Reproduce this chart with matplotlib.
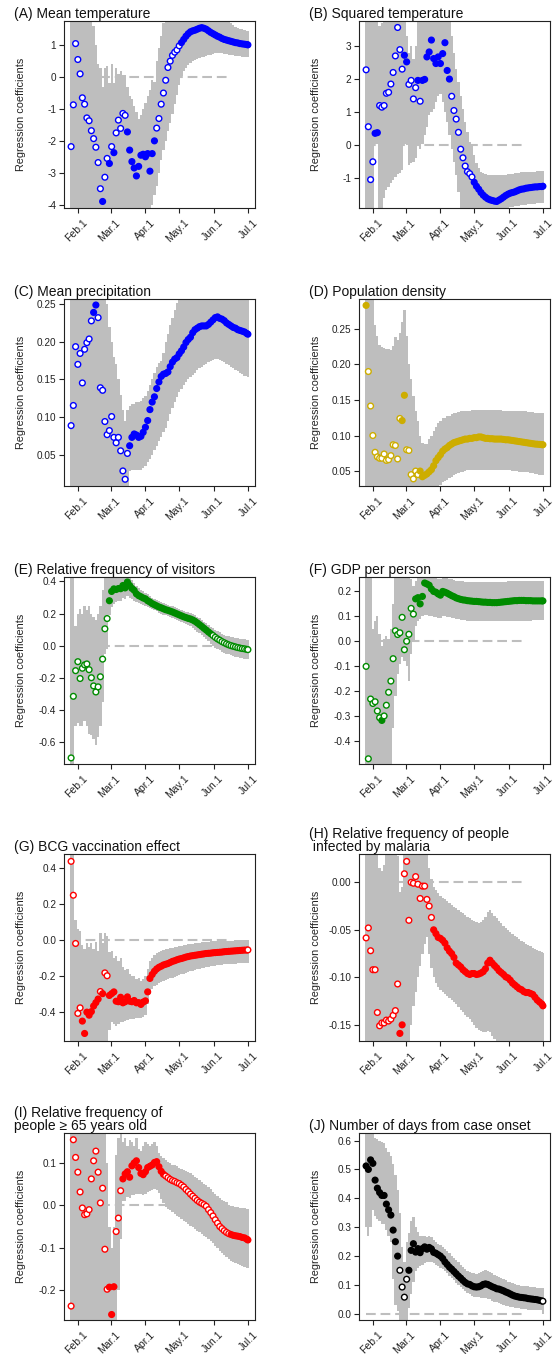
import matplotlib
matplotlib.use("Agg")
import matplotlib.pyplot as plt
from matplotlib.transforms import ScaledTranslation, blended_transform_factory
import numpy as np

plt.rcParams['font.family'] = ['Liberation Sans', 'DejaVu Sans']
plt.rcParams['axes.unicode_minus'] = False
plt.rcParams['lines.scale_dashes'] = False

# ---------------- data ----------------
# day index: 0 = Jan 26 2020 (every 2nd day, plus Jul 1)
DAYS = list(range(0, 157, 2)) + [157]
MONTH_TICKS = [6, 35, 66, 96, 127, 157]
MONTH_LABELS = ["Feb.1", "Mar.1", "Apr.1", "May.1", "Jun.1", "Jul.1"]
REF_LINE_DAYS = [0, 140]

A_COEF = [-2.18, -0.87, 1.05, 0.55, 0.10, -0.65, -0.85, -1.28, -1.37, -1.68,
          -1.93, -2.20, -2.68, -3.50, -3.90, -3.14, -2.55, -2.71, -2.18, -2.37,
          -1.75, -1.35, -1.61, -1.14, -1.20, -1.72, -2.29, -2.65, -2.85, -3.10,
          -2.80, -2.45, -2.42, -2.50, -2.40, -2.95, -2.40, -2.00, -1.60, -1.30,
          -0.85, -0.50, -0.10, 0.30, 0.50, 0.68, 0.78, 0.85, 0.98, 1.08,
          1.18, 1.28, 1.36, 1.42, 1.45, 1.47, 1.50, 1.53, 1.55, 1.53,
          1.50, 1.45, 1.40, 1.36, 1.32, 1.28, 1.25, 1.21, 1.18, 1.16,
          1.14, 1.12, 1.10, 1.08, 1.07, 1.05, 1.04, 1.03, 1.02, 1.01]
A_SIG = "0000000000" "0000100101" "0000011111" "1111111100" "0000000001" + "1" * 30
A_HI = [2.5] * 10 + \
       [1.6, 1.0, 0.4, 0.3, -0.3, 0.3, 0.35, -0.2, 0.4, -0.2,
        0.3, 0.1, 0.2, 0.05, 0.05, -0.3, -0.6, -0.7, -0.9, -1.1,
        -1.3, -1.2, -1.0, -0.8, -0.6, -0.4, -0.1, -0.15, 0.5, 0.9,
        1.3, 1.7, 2.2, 2.5, 2.5, 2.5, 2.5, 2.5, 2.5, 2.5] + [2.5] * 19 + [2.0] + \
       [1.75, 1.68, 1.62, 1.58, 1.55, 1.52, 1.50, 1.48, 1.46, 1.45]
A_LO = [-5.0] * 30 + \
       [-5.0, -5.0, -5.0, -5.0, -5.0, -4.3, -4.0, -3.7, -3.4, -3.0,
        -2.6, -2.3, -2.0, -1.7, -1.45, -1.15, -0.85, -0.55, -0.25, 0.03,
        0.2, 0.3, 0.38, 0.45, 0.5, 0.54, 0.57, 0.6, 0.62, 0.64,
        0.66, 0.68, 0.7, 0.72, 0.74, 0.75, 0.75, 0.74, 0.73, 0.72,
        0.7, 0.69, 0.68, 0.67, 0.66, 0.65, 0.64, 0.63, 0.62, 0.62]

B_COEF = [2.28, 0.56, -1.04, -0.50, 0.36, 0.38, 1.20, 1.15, 1.20, 1.57,
          1.60, 1.85, 2.20, 2.70, 3.56, 2.89, 2.30, 2.72, 2.52, 1.84,
          1.96, 1.40, 1.74, 1.96, 1.33, 1.96, 1.99, 2.67, 2.82, 3.18,
          2.62, 2.47, 2.67, 2.47, 2.77, 3.10, 2.26, 2.00, 1.48, 1.05,
          0.79, 0.39, -0.12, -0.38, -0.63, -0.80, -0.86, -0.96, -1.12, -1.24,
          -1.33, -1.43, -1.51, -1.57, -1.62, -1.65, -1.67, -1.69, -1.70, -1.66,
          -1.62, -1.57, -1.52, -1.48, -1.45, -1.43, -1.41, -1.38, -1.35, -1.33,
          -1.32, -1.30, -1.29, -1.28, -1.27, -1.26, -1.26, -1.25, -1.25, -1.24]
B_SIG = "0000110000" "0000000110" "0001011111" "1111111100" "0000000011" + "1" * 30
B_HI = [4.5, 4.5, 4.5, 4.5, 4.0, 3.8, 3.6, 3.7, 4.0, 4.5,
        4.5, 4.5, 4.5, 4.5, 4.5, 4.5, 4.5, 4.5, 3.3, 2.8,
        3.0, 2.6, 3.0, 4.0, 4.5, 4.5, 4.5, 4.5, 4.5, 4.5,
        4.5, 4.5, 4.5, 4.5, 4.5, 4.5, 4.2, 3.8, 3.3, 2.8,
        2.3, 1.9, 1.5, 1.1, 0.7, 0.4, 0.1, 0.02, -0.3, -0.55,
        -0.7, -0.8, -0.85, -0.88, -0.9, -0.9, -0.9, -0.9, -0.9, -0.9,
        -0.9, -0.9, -0.89, -0.88, -0.87, -0.86, -0.85, -0.84, -0.83, -0.82,
        -0.82, -0.81, -0.81, -0.8, -0.8, -0.8, -0.79, -0.79, -0.78, -0.78]
B_LO = [-2.5, -2.5, -2.5, -2.5, 0.05, 0.05, -2.5, -2.0, -1.6, -1.35,
        -1.25, -1.15, -1.05, -0.95, -0.88, -0.83, -0.75, 0.05, 0.02, -0.6,
        -0.55, -0.5, -0.4, 0.05, -0.1, 0.05, 0.3, 0.55, 0.9, 1.0,
        1.1, 1.3, 1.5, 1.55, 1.3, 1.0, 0.7, 0.3, -0.1, -0.5,
        -0.9, -1.4, -1.9, -2.5, -2.5, -2.5, -2.5, -2.5, -2.5, -2.3,
        -2.1, -2.0, -1.95, -1.95, -1.95, -1.95, -1.95, -1.95, -1.95, -1.95,
        -1.95, -1.95, -1.92, -1.9, -1.88, -1.86, -1.85, -1.84, -1.83, -1.82,
        -1.81, -1.8, -1.79, -1.78, -1.78, -1.77, -1.76, -1.76, -1.75, -1.75]

C_COEF = [0.0888, 0.1155, 0.1935, 0.170, 0.1845, 0.1454, 0.190, 0.1988, 0.2037, 0.2277,
          0.2389, 0.2487, 0.232, 0.139, 0.1356, 0.0942, 0.0768, 0.0822, 0.1008, 0.0732,
          0.066, 0.0732, 0.0554, 0.0287, 0.0176, 0.0519, 0.0621, 0.0732, 0.0777, 0.0763,
          0.0732, 0.0746, 0.0799, 0.0866, 0.0955, 0.110, 0.120, 0.127, 0.138, 0.1467,
          0.154, 0.157, 0.158, 0.160, 0.167, 0.173, 0.177, 0.179, 0.184, 0.188,
          0.193, 0.199, 0.203, 0.206, 0.212, 0.216, 0.218, 0.220, 0.221, 0.221,
          0.221, 0.223, 0.226, 0.229, 0.232, 0.233, 0.231, 0.230, 0.228, 0.225,
          0.223, 0.221, 0.219, 0.218, 0.216, 0.215, 0.214, 0.213, 0.211, 0.210]
C_SIG = "0000000000" "1100000000" "0000001111" + "1" * 50
C_HI = [0.3] * 16 + \
       [0.25, 0.22, 0.2, 0.18,
        0.17, 0.15, 0.13, 0.11, 0.095, 0.11, 0.115, 0.118, 0.118, 0.12,
        0.12, 0.122, 0.125, 0.128, 0.135, 0.142, 0.15, 0.158, 0.167, 0.172,
        0.175, 0.185, 0.2, 0.21, 0.222, 0.232, 0.242, 0.252, 0.3, 0.3] + [0.3] * 30
C_LO = [0.0] * 26 + \
       [0.029, 0.03, 0.03, 0.03,
        0.03, 0.03, 0.032, 0.035, 0.04, 0.045, 0.05, 0.056, 0.062, 0.068,
        0.074, 0.08, 0.086, 0.095, 0.104, 0.112, 0.12, 0.127, 0.133, 0.138,
        0.142, 0.146, 0.15, 0.153, 0.156, 0.159, 0.162, 0.165, 0.167, 0.169,
        0.171, 0.173, 0.175, 0.176, 0.177, 0.177, 0.176, 0.175, 0.173, 0.171,
        0.169, 0.167, 0.165, 0.163, 0.161, 0.159, 0.157, 0.155, 0.154, 0.153]

D_COEF = [0.283, 0.190, 0.1415, 0.100, 0.0764, 0.070, 0.068, 0.068, 0.074, 0.065,
          0.066, 0.0717, 0.087, 0.086, 0.067, 0.124, 0.121, 0.1566, 0.080, 0.079,
          0.045, 0.039, 0.050, 0.045, 0.050, 0.042, 0.044, 0.046, 0.049, 0.052,
          0.0575, 0.0646, 0.069, 0.073, 0.078, 0.081, 0.083, 0.086, 0.088, 0.090,
          0.091, 0.092, 0.093, 0.094, 0.095, 0.095, 0.096, 0.096, 0.097, 0.097,
          0.098, 0.098, 0.097, 0.096, 0.096, 0.0955, 0.0955, 0.095, 0.095, 0.095,
          0.095, 0.0945, 0.094, 0.094, 0.0935, 0.093, 0.0925, 0.092, 0.0915, 0.091,
          0.0905, 0.090, 0.0895, 0.089, 0.0885, 0.088, 0.0878, 0.0875, 0.0872, 0.087]
D_SIG = "1000000000" "0000001100" "0000111111" + "1" * 50
D_HI = [0.35, 0.35, 0.35, 0.35, 0.255, 0.24, 0.228, 0.225, 0.223, 0.222,
        0.221, 0.22, 0.226, 0.238, 0.235, 0.244, 0.26, 0.277, 0.24, 0.2,
        0.18, 0.155, 0.135, 0.12, 0.1, 0.09, 0.088, 0.088, 0.095, 0.1,
        0.107, 0.112, 0.117, 0.121, 0.124, 0.125, 0.127, 0.128, 0.13, 0.131,
        0.132, 0.133, 0.134, 0.134, 0.135, 0.135, 0.135, 0.136, 0.136, 0.136,
        0.136, 0.136, 0.136, 0.136, 0.136, 0.136, 0.136, 0.136, 0.136, 0.136,
        0.136, 0.135, 0.135, 0.135, 0.135, 0.135, 0.135, 0.135, 0.134, 0.134,
        0.134, 0.134, 0.133, 0.133, 0.133, 0.132, 0.132, 0.131, 0.131, 0.131]
D_LO = [0.0] * 30 + \
       [0.02, 0.025, 0.028, 0.031, 0.034, 0.036, 0.038, 0.04, 0.042, 0.044,
        0.046, 0.047, 0.048, 0.049, 0.05, 0.051, 0.0515, 0.0515, 0.0515, 0.0515,
        0.0515, 0.0515, 0.0515, 0.0515, 0.0515, 0.0515, 0.0515, 0.0515, 0.0515, 0.0515,
        0.0515, 0.0515, 0.0515, 0.051, 0.051, 0.05, 0.05, 0.05, 0.049, 0.049,
        0.049, 0.048, 0.048, 0.047, 0.047, 0.046, 0.046, 0.045, 0.045, 0.045]

E_COEF = [-0.700, -0.316, -0.156, -0.100, -0.205, -0.141, -0.120, -0.114, -0.150, -0.200,
          -0.251, -0.289, -0.257, -0.194, -0.084, 0.105, 0.169, 0.280, 0.338, 0.354,
          0.350, 0.356, 0.355, 0.375, 0.360, 0.397, 0.375, 0.357, 0.345, 0.323,
          0.312, 0.305, 0.297, 0.292, 0.280, 0.272, 0.262, 0.255, 0.248, 0.241,
          0.236, 0.230, 0.224, 0.220, 0.215, 0.210, 0.204, 0.198, 0.192, 0.186,
          0.180, 0.175, 0.170, 0.166, 0.160, 0.152, 0.142, 0.131, 0.120, 0.108,
          0.097, 0.085, 0.074, 0.063, 0.052, 0.042, 0.034, 0.025, 0.018, 0.011,
          0.005, 0.000, -0.004, -0.008, -0.012, -0.015, -0.018, -0.020, -0.023, -0.025]
E_SIG = "0" * 17 + "1" * 46 + "0" * 17
E_HI = [0.5, 0.5, 0.12, 0.2, 0.23, 0.2, 0.25, 0.22, 0.25, 0.2,
        0.18, 0.16, 0.2, 0.25, 0.35, 0.42, 0.5, 0.5, 0.5, 0.5,
        0.5, 0.5, 0.5, 0.5, 0.5, 0.45, 0.43, 0.41, 0.39, 0.37,
        0.36, 0.35, 0.34, 0.33, 0.32, 0.31, 0.3, 0.29, 0.285, 0.278,
        0.272, 0.266, 0.26, 0.256, 0.25, 0.246, 0.24, 0.234, 0.228, 0.222,
        0.217, 0.212, 0.207, 0.203, 0.198, 0.19, 0.181, 0.171, 0.161, 0.15,
        0.14, 0.129, 0.119, 0.109, 0.099, 0.09, 0.083, 0.075, 0.069, 0.063,
        0.058, 0.054, 0.051, 0.048, 0.045, 0.043, 0.041, 0.039, 0.037, 0.036]
E_LO = [-0.75, -0.75, -0.5, -0.48, -0.5, -0.5, -0.47, -0.5, -0.55, -0.56,
        -0.58, -0.62, -0.57, -0.5, -0.35, -0.05, -0.02, 0.19, 0.24, 0.26,
        0.27, 0.28, 0.28, 0.3, 0.29, 0.31, 0.3, 0.29, 0.28, 0.27,
        0.265, 0.26, 0.255, 0.25, 0.242, 0.235, 0.226, 0.22, 0.213, 0.206,
        0.2, 0.194, 0.188, 0.184, 0.178, 0.173, 0.167, 0.161, 0.155, 0.149,
        0.143, 0.137, 0.13, 0.12, 0.11, 0.1, 0.088, 0.076, 0.064, 0.052,
        0.04, 0.027, 0.012, -0.005, -0.014, -0.022, -0.03, -0.037, -0.043, -0.049,
        -0.055, -0.06, -0.065, -0.069, -0.073, -0.076, -0.079, -0.082, -0.085, -0.086]

F_COEF = [-0.101, -0.472, -0.232, -0.250, -0.243, -0.280, -0.307, -0.318, -0.300, -0.257,
          -0.205, -0.160, -0.070, 0.042, 0.027, 0.034, 0.096, -0.034, 0.000, 0.028,
          0.132, 0.109, 0.170, 0.175, 0.150, 0.180, 0.234, 0.230, 0.225, 0.210,
          0.200, 0.197, 0.190, 0.185, 0.200, 0.197, 0.193, 0.188, 0.183, 0.179,
          0.174, 0.171, 0.168, 0.166, 0.165, 0.163, 0.162, 0.161, 0.160, 0.160,
          0.159, 0.158, 0.157, 0.157, 0.156, 0.156, 0.155, 0.155, 0.155, 0.156,
          0.157, 0.158, 0.159, 0.160, 0.161, 0.162, 0.163, 0.163, 0.164, 0.164,
          0.164, 0.163, 0.163, 0.163, 0.162, 0.162, 0.162, 0.162, 0.162, 0.162]
F_SIG = "0000000100" "0000000000" "0011111111" + "1" * 50
F_HI = [0.3, 0.3, 0.3, 0.05, 0.08, 0.1, 0.03, -0.02, 0.01, 0.02,
        0.01, 0.05, 0.15, 0.3, 0.3, 0.3, 0.3, 0.3, 0.3, 0.28,
        0.25, 0.22, 0.24, 0.26, 0.3, 0.3, 0.3, 0.3, 0.28, 0.27,
        0.26, 0.255, 0.25, 0.25, 0.26, 0.26, 0.255, 0.25, 0.248, 0.245,
        0.243, 0.241, 0.24, 0.24, 0.239, 0.239, 0.238, 0.238, 0.238, 0.238,
        0.238, 0.238, 0.238, 0.238, 0.238, 0.238, 0.238, 0.238, 0.238, 0.238,
        0.238, 0.239, 0.239, 0.24, 0.24, 0.24, 0.24, 0.241, 0.241, 0.241,
        0.241, 0.241, 0.241, 0.241, 0.241, 0.24, 0.24, 0.24, 0.24, 0.24]
F_LO = [-0.6] * 10 + \
       [-0.6, -0.6, -0.35, -0.22, -0.13, -0.09, -0.064, -0.08, -0.1, -0.16,
        -0.05, -0.005, 0.06, 0.08, 0.09, 0.1, 0.105, 0.105, 0.103, 0.1,
        0.098, 0.096, 0.094, 0.092, 0.1, 0.1, 0.098, 0.096, 0.094, 0.092,
        0.09, 0.088, 0.086, 0.085, 0.084, 0.083, 0.082, 0.082, 0.082, 0.082] + [0.082] * 20 + \
       [0.082, 0.083, 0.083, 0.083, 0.084, 0.084, 0.084, 0.085, 0.085, 0.085]

G_COEF = [0.438, 0.249, -0.020, -0.410, -0.379, -0.453, -0.522, -0.403, -0.420, -0.400,
          -0.369, -0.350, -0.330, -0.288, -0.300, -0.184, -0.200, -0.310, -0.300, -0.290,
          -0.342, -0.345, -0.320, -0.351, -0.345, -0.318, -0.342, -0.345, -0.338, -0.351,
          -0.350, -0.360, -0.347, -0.340, -0.290, -0.215, -0.193, -0.175, -0.162, -0.153,
          -0.147, -0.140, -0.136, -0.132, -0.126, -0.120, -0.116, -0.111, -0.107, -0.104,
          -0.100, -0.096, -0.093, -0.090, -0.088, -0.086, -0.084, -0.082, -0.080, -0.078,
          -0.076, -0.075, -0.074, -0.072, -0.071, -0.070, -0.069, -0.068, -0.066, -0.065,
          -0.064, -0.063, -0.062, -0.061, -0.060, -0.059, -0.058, -0.057, -0.057, -0.056]
G_SIG = "0000011111" "1110100111" + "1" * 59 + "0"
G_HI = [0.6, 0.6, 0.11, 0.06, 0.05, -0.03, -0.05, -0.02, -0.04, -0.02,
        -0.05, -0.01, -0.06, 0.04, -0.02, 0.04, 0.02, -0.07, -0.06, -0.1,
        -0.09, -0.12, -0.1, -0.15, -0.17, -0.16, -0.19, -0.2, -0.2, -0.22,
        -0.21, -0.23, -0.22, -0.2, -0.16, -0.12, -0.1, -0.085, -0.075, -0.068,
        -0.062, -0.057, -0.053, -0.049, -0.046, -0.043, -0.04, -0.037, -0.035, -0.032,
        -0.03, -0.027, -0.025, -0.023, -0.021, -0.019, -0.017, -0.015, -0.013, -0.012,
        -0.011, -0.01, -0.009, -0.009, -0.008, -0.008, -0.007, -0.007, -0.006, -0.006,
        -0.005, -0.004, -0.004, -0.003, -0.003, -0.002, -0.002, -0.001, -0.001, 0.002]
G_LO = [-0.7] * 17 + \
       [-0.5, -0.46, -0.47,
        -0.48, -0.47, -0.46, -0.46, -0.45, -0.445, -0.44, -0.44, -0.44, -0.438,
        -0.436, -0.435, -0.43, -0.42, -0.36, -0.3, -0.275, -0.26, -0.25, -0.242,
        -0.236, -0.23, -0.225, -0.22, -0.215, -0.21, -0.205, -0.2, -0.196, -0.192,
        -0.188, -0.184, -0.18, -0.176, -0.172, -0.168, -0.165, -0.162, -0.159, -0.156,
        -0.153, -0.15, -0.148, -0.146, -0.144, -0.142, -0.14, -0.138, -0.137, -0.136,
        -0.135, -0.134, -0.133, -0.132, -0.131, -0.13, -0.129, -0.128, -0.128, -0.128]

H_COEF = [-0.0585, -0.048, -0.072, -0.092, -0.092, -0.137, -0.151, -0.148, -0.148, -0.145,
          -0.146, -0.144, -0.140, -0.135, -0.107, -0.159, -0.150, 0.009, 0.022, -0.040,
          0.000, -0.001, 0.006, -0.002, -0.017, -0.004, -0.004, -0.018, -0.025, -0.037,
          -0.050, -0.054, -0.058, -0.059, -0.061, -0.064, -0.069, -0.0725, -0.075, -0.079,
          -0.085, -0.087, -0.089, -0.092, -0.094, -0.096, -0.097, -0.096, -0.096, -0.097,
          -0.0965, -0.0955, -0.094, -0.091, -0.085, -0.082, -0.085, -0.0876, -0.090, -0.093,
          -0.095, -0.097, -0.0995, -0.1006, -0.103, -0.106, -0.108, -0.110, -0.112, -0.113,
          -0.115, -0.116, -0.116, -0.117, -0.118, -0.121, -0.124, -0.126, -0.128, -0.130]
H_SIG = "0000000000" "0000011000" "0000000000" + "1" * 50
H_HI = [0.04, 0.04, 0.04, 0.04, 0.04, 0.04, 0.015, 0.012, 0.018, 0.04,
        0.04, 0.04, 0.04, 0.04, 0.028, -0.01, -0.005, 0.04, 0.04, 0.04,
        0.04, 0.04, 0.04, 0.04, 0.04, 0.04, 0.04, 0.04, 0.015, 0.003,
        -0.005, -0.008, -0.011, -0.014, -0.016, -0.018, -0.02, -0.022, -0.024, -0.026,
        -0.027, -0.029, -0.031, -0.032, -0.034, -0.036, -0.038, -0.04, -0.041, -0.042,
        -0.043, -0.042, -0.04, -0.036, -0.031, -0.029, -0.032, -0.035, -0.038, -0.041,
        -0.043, -0.046, -0.048, -0.05, -0.052, -0.054, -0.056, -0.058, -0.06, -0.062,
        -0.063, -0.065, -0.066, -0.067, -0.069, -0.07, -0.071, -0.072, -0.073, -0.074]
H_LO = [-0.2] * 20 + \
       [-0.15, -0.13, -0.115, -0.1, -0.088, -0.075, -0.065, -0.058, -0.075, -0.09,
        -0.1, -0.106, -0.11, -0.113, -0.115, -0.118, -0.12, -0.122, -0.124, -0.126,
        -0.128, -0.131, -0.134, -0.137, -0.14, -0.142, -0.144, -0.147, -0.15, -0.153,
        -0.155, -0.157, -0.158, -0.158, -0.157, -0.158, -0.162, -0.165, -0.2, -0.2] + [-0.2] * 20

I_COEF = [-0.239, 0.156, 0.114, 0.079, 0.032, -0.006, -0.022, -0.020, -0.010, 0.063,
          0.106, 0.129, 0.079, 0.006, 0.041, -0.104, -0.199, -0.194, -0.259, -0.193,
          -0.062, -0.030, 0.035, 0.063, 0.075, 0.080, 0.067, 0.094, 0.101, 0.106,
          0.090, 0.076, 0.073, 0.080, 0.090, 0.093, 0.096, 0.102, 0.104, 0.092,
          0.081, 0.074, 0.070, 0.066, 0.062, 0.059, 0.057, 0.054, 0.052, 0.048,
          0.044, 0.038, 0.033, 0.027, 0.022, 0.017, 0.012, 0.008, 0.005, 0.002,
          -0.002, -0.010, -0.017, -0.025, -0.034, -0.042, -0.050, -0.055, -0.060, -0.064,
          -0.067, -0.069, -0.071, -0.072, -0.073, -0.074, -0.076, -0.077, -0.080, -0.082]
I_SIG = "0" * 17 + "1" * 3 + "0" * 3 + "1" * 19 + "0" * 29 + "1" * 9
I_HI = [0.25] * 16 + \
       [0.1, -0.05, -0.1, -0.05,
        0.12, 0.16, 0.18, 0.15, 0.16, 0.14, 0.155, 0.15, 0.14, 0.16,
        0.135, 0.13, 0.14, 0.15, 0.145, 0.14, 0.145, 0.15, 0.14, 0.125,
        0.117, 0.112, 0.107, 0.103, 0.1, 0.097, 0.095, 0.093, 0.09, 0.087,
        0.085, 0.082, 0.079, 0.076, 0.072, 0.068, 0.064, 0.06, 0.056, 0.052,
        0.048, 0.043, 0.038, 0.033, 0.027, 0.022, 0.018, 0.013, 0.01, 0.007,
        0.002, -0.001, -0.002, -0.003, -0.004, -0.005, -0.006, -0.007, -0.008, -0.008]
I_LO = [-0.3] * 20 + \
       [-0.3, -0.2, -0.08, 0.01, 0.01, 0.02, 0.018, 0.025, 0.024, 0.027,
        0.028, 0.026, 0.025, 0.028, 0.032, 0.035, 0.036, 0.038, 0.037, 0.03,
        0.015, 0.005, -0.003, -0.008, -0.012, -0.016, -0.02, -0.024, -0.028, -0.032,
        -0.036, -0.04, -0.044, -0.048, -0.052, -0.056, -0.06, -0.064, -0.068, -0.072,
        -0.076, -0.08, -0.085, -0.09, -0.096, -0.102, -0.108, -0.113, -0.118, -0.123,
        -0.127, -0.131, -0.134, -0.137, -0.14, -0.142, -0.144, -0.146, -0.148, -0.149]

J_COEF = [0.512, 0.500, 0.533, 0.521, 0.463, 0.435, 0.420, 0.410, 0.410, 0.380,
          0.360, 0.342, 0.290, 0.250, 0.200, 0.151, 0.093, 0.058, 0.120, 0.151,
          0.220, 0.243, 0.214, 0.226, 0.212, 0.226, 0.232, 0.224, 0.230, 0.225,
          0.213, 0.210, 0.205, 0.200, 0.192, 0.180, 0.171, 0.162, 0.155, 0.147,
          0.139, 0.131, 0.124, 0.116, 0.109, 0.104, 0.102, 0.097, 0.094, 0.093,
          0.094, 0.097, 0.102, 0.104, 0.102, 0.098, 0.094, 0.091, 0.087, 0.086,
          0.083, 0.080, 0.076, 0.073, 0.069, 0.065, 0.062, 0.060, 0.058, 0.057,
          0.056, 0.055, 0.053, 0.052, 0.051, 0.050, 0.049, 0.047, 0.045, 0.044]
J_SIG = "1" * 15 + "0" * 4 + "1" * 60 + "0"
J_HI = [0.7, 0.7, 0.7, 0.65, 0.61, 0.605, 0.6, 0.595, 0.59, 0.575,
        0.56, 0.545, 0.52, 0.48, 0.43, 0.35, 0.23, 0.18, 0.25, 0.28,
        0.32, 0.335, 0.3, 0.285, 0.27, 0.27, 0.27, 0.265, 0.27, 0.265,
        0.255, 0.248, 0.243, 0.237, 0.232, 0.225, 0.217, 0.21, 0.202, 0.194,
        0.186, 0.178, 0.17, 0.163, 0.156, 0.149, 0.145, 0.142, 0.14, 0.139,
        0.141, 0.145, 0.15, 0.153, 0.15, 0.145, 0.14, 0.135, 0.131, 0.127,
        0.123, 0.12, 0.116, 0.112, 0.109, 0.106, 0.103, 0.1, 0.099, 0.098,
        0.097, 0.096, 0.095, 0.094, 0.093, 0.092, 0.091, 0.09, 0.09, 0.09]
J_LO = [0.3, 0.27, 0.3, 0.36, 0.34, 0.33, 0.32, 0.31, 0.31, 0.29,
        0.27, 0.25, 0.12, 0.03, 0.01, -0.05, -0.05, -0.05, -0.05, 0.02,
        0.07, 0.11, 0.15, 0.16, 0.165, 0.17, 0.175, 0.18, 0.18, 0.178,
        0.175, 0.17, 0.165, 0.16, 0.155, 0.148, 0.14, 0.132, 0.124, 0.116,
        0.108, 0.1, 0.092, 0.085, 0.078, 0.072, 0.068, 0.062, 0.059, 0.058,
        0.057, 0.056, 0.055, 0.054, 0.052, 0.05, 0.046, 0.043, 0.04, 0.037,
        0.034, 0.031, 0.029, 0.027, 0.025, 0.023, 0.021, 0.02, 0.019, 0.018,
        0.017, 0.016, 0.015, 0.015, 0.014, 0.014, 0.013, 0.013, 0.012, -0.001]

TITLES = ["(A) Mean temperature", "(B) Squared temperature",
          "(C) Mean precipitation", "(D) Population density",
          "(E) Relative frequency of visitors", "(F) GDP per person",
          "(G) BCG vaccination effect",
          "(H) Relative frequency of people\n infected by malaria",
          "(I) Relative frequency of\npeople \u2265 65 years old",
          "(J) Number of days from case onset"]

YTICKS = [[-4, -3, -2, -1, 0, 1], [-1, 0, 1, 2, 3],
          [0.05, 0.10, 0.15, 0.20, 0.25], [0.05, 0.10, 0.15, 0.20, 0.25],
          [-0.6, -0.4, -0.2, 0.0, 0.2, 0.4], [-0.4, -0.3, -0.2, -0.1, 0.0, 0.1, 0.2],
          [-0.4, -0.2, 0.0, 0.2, 0.4], [-0.15, -0.10, -0.05, 0.00],
          [-0.2, -0.1, 0.0, 0.1], [0.0, 0.1, 0.2, 0.3, 0.4, 0.5, 0.6]]
YTICKLABELS = [["-4", "-3", "-2", "-1", "0", "1"], ["-1", "0", "1", "2", "3"],
               ["0.05", "0.10", "0.15", "0.20", "0.25"], ["0.05", "0.10", "0.15", "0.20", "0.25"],
               ["-0.6", "-0.4", "-0.2", "0.0", "0.2", "0.4"],
               ["-0.4", "-0.3", "-0.2", "-0.1", "0.0", "0.1", "0.2"],
               ["-0.4", "-0.2", "0.0", "0.2", "0.4"], ["-0.15", "-0.10", "-0.05", "0.00"],
               ["-0.2", "-0.1", "0.0", "0.1"], ["0.0", "0.1", "0.2", "0.3", "0.4", "0.5", "0.6"]]
YLIMS = [(-4.105, 1.758), (-1.898, 3.756), (0.0087, 0.2567), (0.029, 0.292),
         (-0.738, 0.428), (-0.493, 0.258), (-0.564, 0.479), (-0.167, 0.0298),
         (-0.272, 0.172), (-0.021, 0.626)]

BLUE, GOLD, GREEN, RED, BLACK = "#0000ff", "#cdad00", "#008b00", "#ff0000", "#000000"
COLORS = [BLUE, BLUE, BLUE, GOLD, GREEN, GREEN, RED, RED, RED, BLACK]

SERIES = [(A_COEF, A_LO, A_HI, A_SIG), (B_COEF, B_LO, B_HI, B_SIG),
          (C_COEF, C_LO, C_HI, C_SIG), (D_COEF, D_LO, D_HI, D_SIG),
          (E_COEF, E_LO, E_HI, E_SIG), (F_COEF, F_LO, F_HI, F_SIG),
          (G_COEF, G_LO, G_HI, G_SIG), (H_COEF, H_LO, H_HI, H_SIG),
          (I_COEF, I_LO, I_HI, I_SIG), (J_COEF, J_LO, J_HI, J_SIG)]

# ---------------- layout ----------------
FW, FH = 553, 1354
COL_LEFT = [64, 359]
ROW_TOP = [21, 299, 577, 854, 1133]
AW, AH = 191, 187
BAND = "#bebebe"

fig = plt.figure(figsize=(FW / 100, FH / 100), dpi=100)

for k in range(10):
    coef, lo, hi, sig = SERIES[k]
    coef = np.asarray(coef, float)
    lo = np.asarray(lo, float)
    hi = np.asarray(hi, float)
    color = COLORS[k]
    L = COL_LEFT[k % 2]
    T = ROW_TOP[k // 2]
    ax = fig.add_axes([L / FW, 1 - (T + AH) / FH, AW / FW, AH / FH])

    ax.bar(DAYS, hi - lo, bottom=lo, width=2.0, color=BAND, linewidth=0, zorder=1)
    ax.plot(REF_LINE_DAYS, [0, 0], color=BAND, lw=1.5, dashes=(7, 3.5), zorder=1.5)
    fc = [color if s == "1" else "white" for s in sig]
    ax.scatter(DAYS, coef, s=17, facecolors=fc, edgecolors=color,
               linewidths=1.0, zorder=3)

    ax.set_xlim(-6.3, 163.3)
    ax.set_ylim(*YLIMS[k])
    ax.set_yticks(YTICKS[k])
    ax.set_yticklabels(YTICKLABELS[k])
    ax.set_xticks(MONTH_TICKS)
    ax.set_xticklabels([])
    ax.tick_params(axis="both", direction="out", length=3.6, width=0.8,
                   labelsize=7.2, pad=2.0, color="#222222", labelcolor="#222222")
    for sp in ax.spines.values():
        sp.set_linewidth(0.8)
        sp.set_color("#222222")

    trans = blended_transform_factory(ax.transData, ax.transAxes) + \
        ScaledTranslation(8 / 100, -13 / 100, fig.dpi_scale_trans)
    for t, lab in zip(MONTH_TICKS, MONTH_LABELS):
        ax.text(t, 0, lab, transform=trans, rotation=45, ha="right", va="center",
                rotation_mode="anchor", fontsize=7.5, color="#222222", clip_on=False)

    ax.text(0, 1, TITLES[k], transform=ax.transAxes +
            ScaledTranslation(-50 / 100, 0, fig.dpi_scale_trans),
            ha="left", va="bottom", fontsize=10, linespacing=0.95, color="#111111")
    ax.text(0, 0.5, "Regression coefficients", transform=ax.transAxes +
            ScaledTranslation(-43 / 100, 0, fig.dpi_scale_trans),
            rotation=90, ha="center", va="center", fontsize=7.8, color="#222222")

fig.savefig("out.png", dpi=100)
